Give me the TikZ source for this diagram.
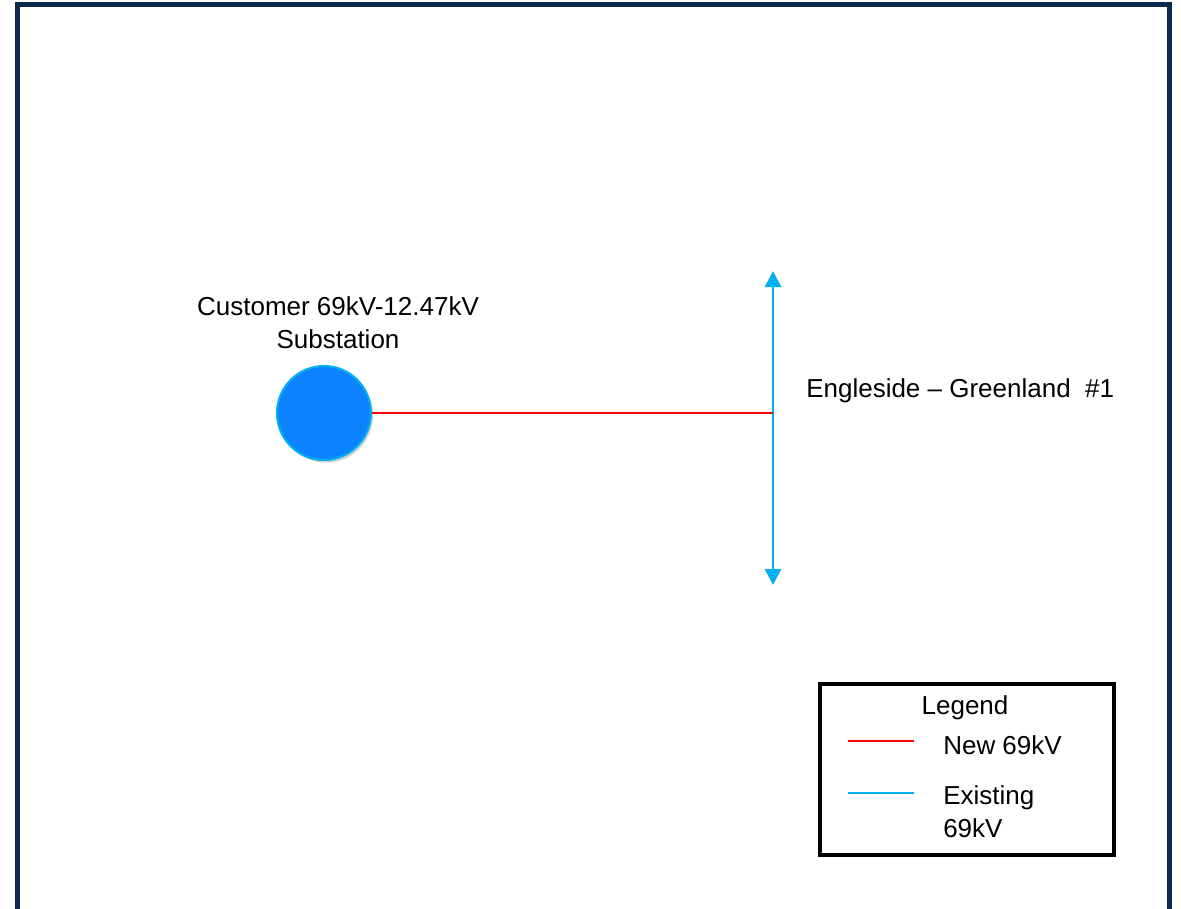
\documentclass[tikz,border=0pt]{standalone}
\usepackage{fontspec}
\setmainfont{Liberation Sans}
\usetikzlibrary{arrows.meta,shadows}
\definecolor{framecol}{HTML}{0B2A4F}
\definecolor{subfill}{HTML}{0C82FF}
\definecolor{existcol}{HTML}{00B0F0}
\definecolor{newcol}{HTML}{FF0000}
\tikzset{
  lbl/.style={font=\fontsize{19.5}{24.5}\selectfont, inner sep=0pt, text=black},
  newline/.style={draw=newcol, line width=1.8pt},
  existline/.style={draw=existcol, line width=1.9pt},
  subst/.style={circle, minimum size=70.5pt, inner sep=0pt, fill=subfill, draw=existcol, line width=1.5pt,
    drop shadow={shadow xshift=1.5pt, shadow yshift=-2pt, opacity=0.35}},
}
\begin{document}
\begin{tikzpicture}[x=0.75pt,y=-0.75pt]
\useasboundingbox (0,0) rectangle (1181,908);
\fill[white] (0,0) rectangle (1181,908);
\begin{scope}
\clip (0,0) rectangle (1181,908);
\draw[framecol, line width=3.75pt] (17.5,4) rectangle (1169,940);
\end{scope}
% substation
\node[subst] (sub) at (324,413) {};
\node[lbl, align=center] (sublbl) at (338,323) {Customer 69kV-12.47kV\\Substation};
% existing line
\coordinate (tap) at (773,413);
\coordinate (top) at (773,271);
\coordinate (bot) at (773,585);
\draw[existline, {Triangle[width=12pt,length=12pt]}-{Triangle[width=12pt,length=12pt]}] (top) -- (bot);
\draw[newline] (sub.east) -- (tap);
\node[lbl, anchor=west] (linelbl) at (806,391) {Engleside – Greenland\ \ \#1};
% legend
\node[draw=black, line width=3pt, minimum width=220.5pt, minimum height=128.25pt, inner sep=0pt] (legend) at (967,769.5) {};
\node[lbl] (legtitle) at (965,708) {Legend};
\coordinate (r1) at (848,741);
\coordinate (r2) at (914,741);
\draw[newline] (r1) -- (r2);
\node[lbl, anchor=west] (newlbl) at (943,745) {New 69kV};
\coordinate (b1) at (848,793);
\coordinate (b2) at (914,793);
\draw[existline] (b1) -- (b2);
\node[lbl, anchor=west, align=left] (exlbl) at (943,812) {Existing\\69kV};
\end{tikzpicture}
\end{document}
